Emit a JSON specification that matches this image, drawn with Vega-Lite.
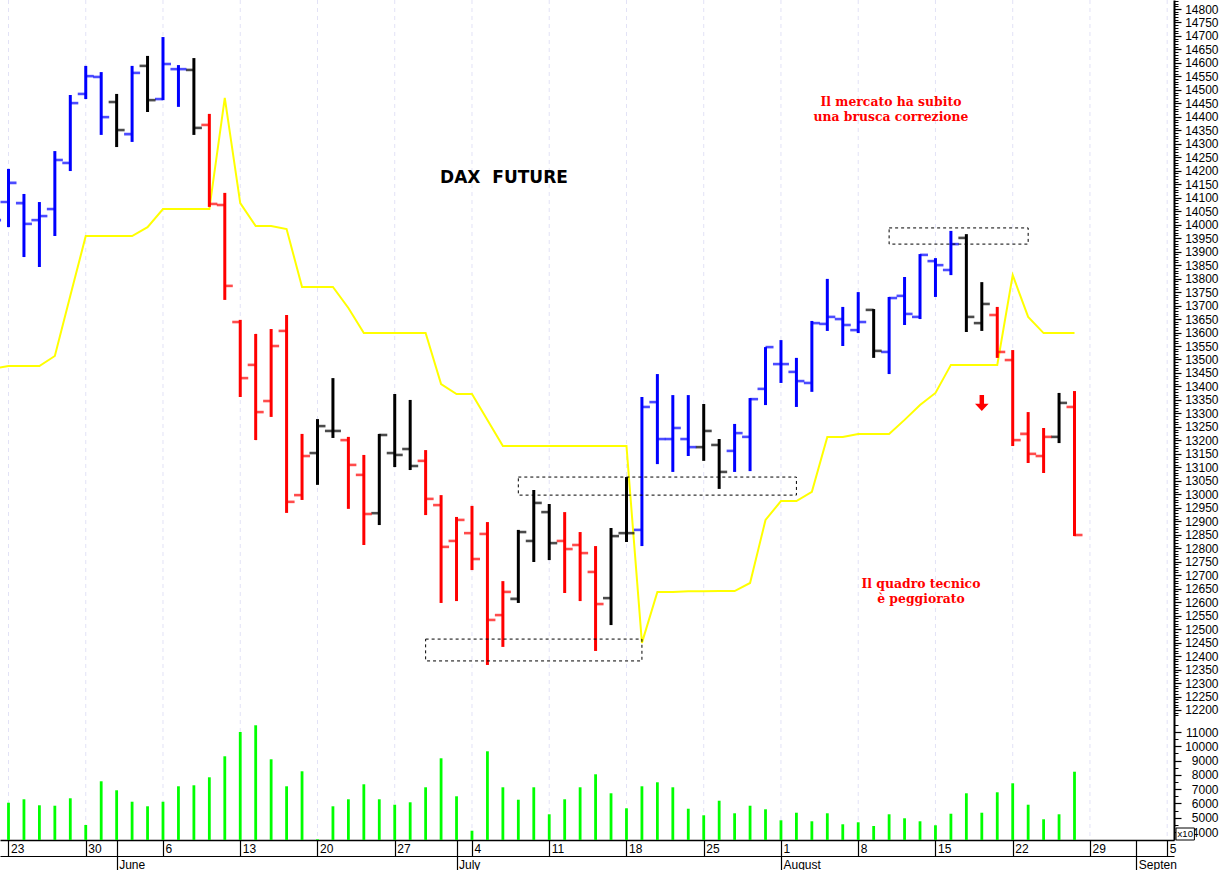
{
  "$schema": "https://vega.github.io/schema/vega-lite/v6.json",
  "width": 1174,
  "height": 840,
  "autosize": {"type": "none"},
  "padding": {"left": 0, "top": 0, "right": 48, "bottom": 30},
  "background": "white",
  "config": {
    "view": {"stroke": null},
    "axis": {"labelFont": "Liberation Sans", "labelFontSize": 12, "labelColor": "#000000", "tickColor": "#000000", "domainColor": "#000000", "grid": false, "labelOverlap": false, "labelBound": false, "labelFlush": false}
  },
  "datasets": {
    "bars": [
      {"bar":-1,"open":14050,"high":14150,"low":13950,"close":14017,"trend":"up","volume":5500,"stop":13465},
      {"bar":0,"open":14084,"high":14207,"low":13991,"close":14155,"trend":"up","volume":6050,"stop":13476},
      {"bar":1,"open":14080,"high":14114,"low":13880,"close":14003,"trend":"up","volume":6290,"stop":13476},
      {"bar":2,"open":14017,"high":14084,"low":13843,"close":14032,"trend":"up","volume":5870,"stop":13476},
      {"bar":3,"open":14058,"high":14273,"low":13958,"close":14240,"trend":"up","volume":5840,"stop":13513},
      {"bar":4,"open":14229,"high":14481,"low":14199,"close":14451,"trend":"up","volume":6360,"stop":13736},
      {"bar":5,"open":14485,"high":14589,"low":14466,"close":14551,"trend":"up","volume":4490,"stop":13958},
      {"bar":6,"open":14548,"high":14566,"low":14333,"close":14399,"trend":"up","volume":7550,"stop":13958},
      {"bar":7,"open":14455,"high":14485,"low":14288,"close":14351,"trend":"flat","volume":6920,"stop":13958},
      {"bar":8,"open":14336,"high":14589,"low":14307,"close":14563,"trend":"up","volume":6120,"stop":13958},
      {"bar":9,"open":14589,"high":14626,"low":14418,"close":14462,"trend":"flat","volume":5800,"stop":13991},
      {"bar":10,"open":14466,"high":14696,"low":14462,"close":14596,"trend":"up","volume":6120,"stop":14058},
      {"bar":11,"open":14577,"high":14592,"low":14437,"close":14577,"trend":"up","volume":7200,"stop":14058},
      {"bar":12,"open":14574,"high":14618,"low":14333,"close":14359,"trend":"flat","volume":7270,"stop":14058},
      {"bar":13,"open":14370,"high":14411,"low":14066,"close":14077,"trend":"down","volume":7830,"stop":14058},
      {"bar":14,"open":14073,"high":14118,"low":13721,"close":13773,"trend":"down","volume":9300,"stop":14470},
      {"bar":15,"open":13639,"high":13647,"low":13361,"close":13431,"trend":"down","volume":11000,"stop":14080},
      {"bar":16,"open":13480,"high":13595,"low":13201,"close":13305,"trend":"down","volume":11470,"stop":13995},
      {"bar":17,"open":13346,"high":13613,"low":13287,"close":13550,"trend":"down","volume":9090,"stop":13995},
      {"bar":18,"open":13606,"high":13665,"low":12931,"close":12972,"trend":"down","volume":7200,"stop":13984},
      {"bar":19,"open":12997,"high":13224,"low":12979,"close":13142,"trend":"down","volume":8250,"stop":13769},
      {"bar":20,"open":13153,"high":13279,"low":13035,"close":13253,"trend":"flat","volume":3490,"stop":13769},
      {"bar":21,"open":13235,"high":13431,"low":13209,"close":13235,"trend":"flat","volume":5800,"stop":13769},
      {"bar":22,"open":13201,"high":13213,"low":12946,"close":13109,"trend":"down","volume":6290,"stop":13691},
      {"bar":23,"open":13072,"high":13146,"low":12812,"close":12927,"trend":"down","volume":7340,"stop":13598},
      {"bar":24,"open":12930,"high":13224,"low":12886,"close":13220,"trend":"flat","volume":6290,"stop":13598},
      {"bar":25,"open":13153,"high":13372,"low":13101,"close":13146,"trend":"flat","volume":5910,"stop":13598},
      {"bar":26,"open":13168,"high":13350,"low":13090,"close":13105,"trend":"flat","volume":6080,"stop":13598},
      {"bar":27,"open":13124,"high":13164,"low":12923,"close":12983,"trend":"down","volume":7130,"stop":13598},
      {"bar":28,"open":12960,"high":12997,"low":12597,"close":12805,"trend":"down","volume":9160,"stop":13409},
      {"bar":29,"open":12827,"high":12916,"low":12604,"close":12905,"trend":"down","volume":6500,"stop":13372},
      {"bar":30,"open":12856,"high":12957,"low":12719,"close":12760,"trend":"down","volume":4090,"stop":13372},
      {"bar":31,"open":12853,"high":12897,"low":12367,"close":12534,"trend":"down","volume":9650,"stop":13276},
      {"bar":32,"open":12552,"high":12678,"low":12434,"close":12638,"trend":"down","volume":7130,"stop":13179},
      {"bar":33,"open":12612,"high":12868,"low":12597,"close":12860,"trend":"flat","volume":6260,"stop":13179},
      {"bar":34,"open":12827,"high":13016,"low":12749,"close":12968,"trend":"flat","volume":7130,"stop":13179},
      {"bar":35,"open":12934,"high":12964,"low":12756,"close":12819,"trend":"flat","volume":5240,"stop":13179},
      {"bar":36,"open":12827,"high":12934,"low":12634,"close":12797,"trend":"down","volume":6290,"stop":13179},
      {"bar":37,"open":12812,"high":12860,"low":12604,"close":12782,"trend":"down","volume":7130,"stop":13179},
      {"bar":38,"open":12712,"high":12808,"low":12419,"close":12593,"trend":"down","volume":8040,"stop":13179},
      {"bar":39,"open":12615,"high":12875,"low":12515,"close":12845,"trend":"flat","volume":6710,"stop":13179},
      {"bar":40,"open":12856,"high":13064,"low":12823,"close":12856,"trend":"flat","volume":5660,"stop":13179},
      {"bar":41,"open":12868,"high":13361,"low":12808,"close":13324,"trend":"up","volume":7200,"stop":12449},
      {"bar":42,"open":13342,"high":13446,"low":13112,"close":13205,"trend":"up","volume":7480,"stop":12638},
      {"bar":43,"open":13205,"high":13368,"low":13083,"close":13246,"trend":"up","volume":7130,"stop":12638},
      {"bar":44,"open":13205,"high":13368,"low":13142,"close":13175,"trend":"up","volume":5630,"stop":12640},
      {"bar":45,"open":13175,"high":13335,"low":13124,"close":13235,"trend":"flat","volume":5170,"stop":12640},
      {"bar":46,"open":13183,"high":13205,"low":13020,"close":13083,"trend":"flat","volume":6190,"stop":12641},
      {"bar":47,"open":13161,"high":13261,"low":13083,"close":13227,"trend":"up","volume":5310,"stop":12641},
      {"bar":48,"open":13213,"high":13357,"low":13086,"close":13353,"trend":"up","volume":5840,"stop":12671},
      {"bar":49,"open":13391,"high":13546,"low":13331,"close":13546,"trend":"up","volume":5590,"stop":12905},
      {"bar":50,"open":13483,"high":13572,"low":13413,"close":13483,"trend":"up","volume":4820,"stop":12975},
      {"bar":51,"open":13454,"high":13506,"low":13324,"close":13420,"trend":"up","volume":5350,"stop":12975},
      {"bar":52,"open":13413,"high":13643,"low":13380,"close":13635,"trend":"up","volume":4750,"stop":13009},
      {"bar":53,"open":13632,"high":13799,"low":13606,"close":13658,"trend":"up","volume":5310,"stop":13213},
      {"bar":54,"open":13650,"high":13695,"low":13550,"close":13628,"trend":"up","volume":4540,"stop":13213},
      {"bar":55,"open":13609,"high":13750,"low":13598,"close":13639,"trend":"up","volume":4680,"stop":13224},
      {"bar":56,"open":13684,"high":13687,"low":13506,"close":13532,"trend":"flat","volume":4420,"stop":13224},
      {"bar":57,"open":13528,"high":13732,"low":13446,"close":13728,"trend":"up","volume":5240,"stop":13224},
      {"bar":58,"open":13736,"high":13806,"low":13628,"close":13669,"trend":"up","volume":4960,"stop":13276},
      {"bar":59,"open":13658,"high":13891,"low":13650,"close":13888,"trend":"up","volume":4750,"stop":13331},
      {"bar":60,"open":13865,"high":13876,"low":13732,"close":13850,"trend":"up","volume":4470,"stop":13376},
      {"bar":61,"open":13832,"high":13977,"low":13813,"close":13928,"trend":"up","volume":5280,"stop":13480},
      {"bar":62,"open":13951,"high":13965,"low":13602,"close":13658,"trend":"flat","volume":6710,"stop":13480},
      {"bar":63,"open":13635,"high":13787,"low":13606,"close":13706,"trend":"flat","volume":5350,"stop":13480},
      {"bar":64,"open":13665,"high":13695,"low":13506,"close":13528,"trend":"down","volume":6780,"stop":13480},
      {"bar":65,"open":13498,"high":13535,"low":13179,"close":13201,"trend":"down","volume":7410,"stop":13813},
      {"bar":66,"open":13224,"high":13305,"low":13116,"close":13150,"trend":"down","volume":5910,"stop":13658},
      {"bar":67,"open":13142,"high":13246,"low":13079,"close":13213,"trend":"down","volume":4890,"stop":13598},
      {"bar":68,"open":13213,"high":13376,"low":13190,"close":13339,"trend":"flat","volume":5240,"stop":13598},
      {"bar":69,"open":13324,"high":13383,"low":12845,"close":12849,"trend":"down","volume":8220,"stop":13598}
    ],
    "weeks": [{"bar":0},{"bar":5},{"bar":10},{"bar":15},{"bar":20},{"bar":25},{"bar":30},{"bar":35},{"bar":40},{"bar":45},{"bar":50},{"bar":55},{"bar":60},{"bar":65},{"bar":70},{"bar":75}],
    "months": [{"bar":7},{"bar":29},{"bar":50},{"bar":73}],
    "zones": [
      {"bar":27,"bar2":41,"top":12463,"bottom":12382},
      {"bar":33,"bar2":51,"top":13064,"bottom":12997},
      {"bar":57,"bar2":66,"top":13988,"bottom":13928}
    ],
    "heading": [{"bar":32.07,"price":14173,"label":"DAX\u00a0 FUTURE"}],
    "notes": [
      {"bar":57.12,"price":14455,"label":"Il mercato ha subito"},
      {"bar":57.12,"price":14399,"label":"una brusca correzione"},
      {"bar":59.06,"price":12667,"label":"Il quadro tecnico"},
      {"bar":59.06,"price":12611,"label":"è peggiorato"}
    ],
    "arrow": [{"bar":63,"price":13339}],
    "unitBox": [{"bar":75.57,"bar2":76.76,"lo":3440,"hi":4280}],
    "unitLabel": [{"bar":76.17,"volume":3860,"label":"x10"}]
  },
  "encoding": {
    "x": {"field": "bar", "type": "quantitative", "scale": {"domain": [-0.55, 75.44], "nice": false, "zero": false}, "axis": null}
  },
  "resolve": {"scale": {"y": "independent"}, "axis": {"x": "independent", "y": "independent"}},
  "layer": [
    {
      "data": {"name": "weeks"},
      "mark": {"type": "rule", "stroke": "#e2e2f6", "strokeWidth": 1, "strokeDash": [4, 4]},
      "encoding": {
        "x": {
          "field": "bar", "type": "quantitative",
          "scale": {"domain": [-0.55, 75.44], "nice": false, "zero": false},
          "axis": {
            "orient": "bottom", "title": null,
            "values": [0, 5, 7, 10, 15, 20, 25, 29, 30, 35, 40, 45, 50, 55, 60, 65, 70, 73, 75],
            "labelExpr": "['23','30','6','13','20','27','4','11','18','25','1','8','15','22','29','5'][datum.value / 5] || ''",
            "tickSize": 16, "tickWidth": 1.2, "domainWidth": 1.5,
            "labelAlign": "left", "labelBaseline": "middle", "labelOffset": 2, "labelPadding": -8, "labelAngle": 0
          }
        }
      }
    },
    {
      "data": {"name": "months"},
      "mark": {"type": "rule", "opacity": 0},
      "encoding": {
        "x": {
          "field": "bar", "type": "quantitative",
          "scale": {"domain": [-0.55, 75.44], "nice": false, "zero": false},
          "axis": {
            "orient": "bottom", "offset": 16, "title": null,
            "values": [7, 29, 50, 73],
            "labelExpr": "{'7':'June','29':'July','50':'August','73':'Septen'}[datum.value]",
            "tickSize": 14, "tickWidth": 1.2, "domainWidth": 1.2,
            "labelAlign": "left", "labelBaseline": "middle", "labelOffset": 2, "labelPadding": -6, "labelAngle": 0
          }
        }
      }
    },
    {
      "data": {"name": "bars"},
      "mark": {"type": "line", "color": "#ffff00", "strokeWidth": 2, "clip": true},
      "encoding": {
        "y": {
          "field": "stop", "type": "quantitative",
          "scale": {"domain": [11717.8, 14833.4], "nice": false, "zero": false},
          "axis": {
            "orient": "right", "title": null, "domain": false, "labels": false, "tickSize": 4, "tickWidth": 1,
            "values": [12180,12190,12200,12210,12220,12230,12240,12250,12260,12270,12280,12290,12300,12310,12320,12330,12340,12350,12360,12370,12380,12390,12400,12410,12420,12430,12440,12450,12460,12470,12480,12490,12500,12510,12520,12530,12540,12550,12560,12570,12580,12590,12600,12610,12620,12630,12640,12650,12660,12670,12680,12690,12700,12710,12720,12730,12740,12750,12760,12770,12780,12790,12800,12810,12820,12830,12840,12850,12860,12870,12880,12890,12900,12910,12920,12930,12940,12950,12960,12970,12980,12990,13000,13010,13020,13030,13040,13050,13060,13070,13080,13090,13100,13110,13120,13130,13140,13150,13160,13170,13180,13190,13200,13210,13220,13230,13240,13250,13260,13270,13280,13290,13300,13310,13320,13330,13340,13350,13360,13370,13380,13390,13400,13410,13420,13430,13440,13450,13460,13470,13480,13490,13500,13510,13520,13530,13540,13550,13560,13570,13580,13590,13600,13610,13620,13630,13640,13650,13660,13670,13680,13690,13700,13710,13720,13730,13740,13750,13760,13770,13780,13790,13800,13810,13820,13830,13840,13850,13860,13870,13880,13890,13900,13910,13920,13930,13940,13950,13960,13970,13980,13990,14000,14010,14020,14030,14040,14050,14060,14070,14080,14090,14100,14110,14120,14130,14140,14150,14160,14170,14180,14190,14200,14210,14220,14230,14240,14250,14260,14270,14280,14290,14300,14310,14320,14330,14340,14350,14360,14370,14380,14390,14400,14410,14420,14430,14440,14450,14460,14470,14480,14490,14500,14510,14520,14530,14540,14550,14560,14570,14580,14590,14600,14610,14620,14630,14640,14650,14660,14670,14680,14690,14700,14710,14720,14730,14740,14750,14760,14770,14780,14790,14800,14810,14820,14830]
          }
        }
      }
    },
    {
      "data": {"name": "bars"},
      "mark": {"type": "rule", "strokeWidth": 3, "clip": true},
      "encoding": {
        "y": {
          "field": "high", "type": "quantitative",
          "scale": {"domain": [11717.8, 14833.4], "nice": false, "zero": false},
          "axis": {
            "orient": "right", "title": null, "domainWidth": 2, "tickSize": 7, "tickWidth": 1.2,
            "labelAlign": "right", "labelPadding": 37,
            "values": [12200,12250,12300,12350,12400,12450,12500,12550,12600,12650,12700,12750,12800,12850,12900,12950,13000,13050,13100,13150,13200,13250,13300,13350,13400,13450,13500,13550,13600,13650,13700,13750,13800,13850,13900,13950,14000,14050,14100,14150,14200,14250,14300,14350,14400,14450,14500,14550,14600,14650,14700,14750,14800],
            "format": "d"
          }
        },
        "y2": {"field": "low"},
        "color": {"field": "trend", "type": "nominal", "scale": {"domain": ["up", "down", "flat"], "range": ["#0000ff", "#ff0000", "#000000"]}, "legend": null}
      }
    },
    {
      "data": {"name": "bars"},
      "mark": {"type": "tick", "orient": "horizontal", "size": 8, "thickness": 2.6, "xOffset": -4, "clip": true},
      "encoding": {
        "y": {"field": "open", "type": "quantitative", "scale": {"domain": [11717.8, 14833.4], "nice": false, "zero": false}, "axis": null},
        "color": {"field": "trend", "type": "nominal", "scale": {"domain": ["up", "down", "flat"], "range": ["#0000ff", "#ff0000", "#000000"]}, "legend": null}
      }
    },
    {
      "data": {"name": "bars"},
      "mark": {"type": "tick", "orient": "horizontal", "size": 8, "thickness": 2.6, "xOffset": 4, "clip": true},
      "encoding": {
        "y": {"field": "close", "type": "quantitative", "scale": {"domain": [11717.8, 14833.4], "nice": false, "zero": false}, "axis": null},
        "color": {"field": "trend", "type": "nominal", "scale": {"domain": ["up", "down", "flat"], "range": ["#0000ff", "#ff0000", "#000000"]}, "legend": null}
      }
    },
    {
      "data": {"name": "zones"},
      "mark": {"type": "rect", "fillOpacity": 0, "stroke": "#000000", "strokeWidth": 1, "strokeDash": [3, 3]},
      "encoding": {
        "x2": {"field": "bar2"},
        "y": {"field": "top", "type": "quantitative", "scale": {"domain": [11717.8, 14833.4], "nice": false, "zero": false}, "axis": null},
        "y2": {"field": "bottom"}
      }
    },
    {
      "data": {"name": "heading"},
      "mark": {"type": "text", "font": "DejaVu Sans", "fontWeight": "bold", "fontSize": 17, "color": "#000000", "align": "center", "baseline": "middle"},
      "encoding": {
        "y": {"field": "price", "type": "quantitative", "scale": {"domain": [11717.8, 14833.4], "nice": false, "zero": false}, "axis": null},
        "text": {"field": "label"}
      }
    },
    {
      "data": {"name": "notes"},
      "mark": {"type": "text", "font": "DejaVu Serif", "fontWeight": "bold", "fontSize": 12.4, "color": "#ff0000", "align": "center", "baseline": "middle"},
      "encoding": {
        "y": {"field": "price", "type": "quantitative", "scale": {"domain": [11717.8, 14833.4], "nice": false, "zero": false}, "axis": null},
        "text": {"field": "label"}
      }
    },
    {
      "data": {"name": "arrow"},
      "mark": {"type": "point", "shape": "M-0.28,-1L0.28,-1L0.28,0.1L0.85,0.1L0,1L-0.85,0.1L-0.28,0.1Z", "size": 256, "filled": true, "color": "#ff0000", "opacity": 1},
      "encoding": {
        "y": {"field": "price", "type": "quantitative", "scale": {"domain": [11717.8, 14833.4], "nice": false, "zero": false}, "axis": null}
      }
    },
    {
      "data": {"name": "bars"},
      "mark": {"type": "rule", "color": "#00ff00", "strokeWidth": 2.8, "clip": true},
      "encoding": {
        "y": {
          "field": "volume", "type": "quantitative",
          "scale": {"domain": [3440, 62240], "nice": false, "zero": false},
          "axis": {
            "orient": "right", "title": null, "domain": false, "tickSize": 7, "tickWidth": 1.2,
            "labelAlign": "right", "labelPadding": 37,
            "values": [4000, 5000, 6000, 7000, 8000, 9000, 10000, 11000],
            "format": "d"
          }
        },
        "y2": {"datum": 3440}
      }
    },
    {
      "data": {"name": "unitBox"},
      "mark": {"type": "rect", "fill": "#ffffff", "stroke": "#000000", "strokeWidth": 1},
      "encoding": {
        "x2": {"field": "bar2"},
        "y": {
          "field": "lo", "type": "quantitative",
          "scale": {"domain": [3440, 62240], "nice": false, "zero": false},
          "axis": {
            "orient": "right", "title": null, "domain": false, "labels": false, "tickSize": 4, "tickWidth": 1,
            "values": [4500, 5500, 6500, 7500, 8500, 9500, 10500, 11500]
          }
        },
        "y2": {"field": "hi"}
      }
    },
    {
      "data": {"name": "unitLabel"},
      "mark": {"type": "text", "font": "Liberation Sans", "fontSize": 9.5, "color": "#000000", "align": "center", "baseline": "middle"},
      "encoding": {
        "y": {"field": "volume", "type": "quantitative", "scale": {"domain": [3440, 62240], "nice": false, "zero": false}, "axis": null},
        "text": {"field": "label"}
      }
    }
  ]
}
